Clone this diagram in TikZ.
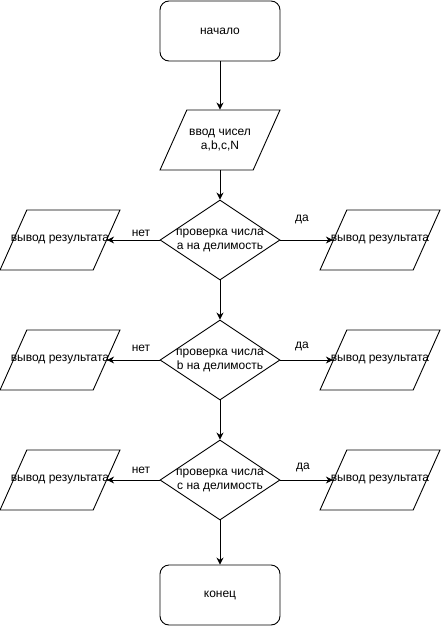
\documentclass[tikz,border=0pt]{standalone}
\usepackage{fontspec}
\setmainfont{Liberation Sans}
\usetikzlibrary{shapes.geometric,arrows.meta}
\begin{document}
\begin{tikzpicture}[x=1pt,y=-1pt,
  every node/.style={font=\fontsize{12}{14}\selectfont},
  terminal/.style={draw,rounded corners=9pt,minimum width=120pt,minimum height=60pt,line width=0.9pt},
  io/.style={draw,trapezium,trapezium left angle=68,trapezium right angle=112,
    trapezium stretches=true,minimum width=120pt,minimum height=60pt,inner sep=2pt,line width=0.9pt},
  decision/.style={draw,diamond,minimum width=120pt,minimum height=80pt,inner sep=2pt,line width=0.9pt},
  txt/.style={label={[align=center,inner sep=0pt]center:{#1}}},
  flow/.style={-{Stealth[length=7pt,width=7pt]},line width=0.9pt},
  lbl/.style={inner sep=0pt}]
\useasboundingbox (0,0) rectangle (441,626);

% main column
\node[terminal] (start) at (220,31) {начало};
\node[io,txt={ввод чисел\\ a,b,c,N}] (input) at (220,140) {};
\node[decision,txt={проверка числа\\a на делимость}] (d1) at (220,240) {};
\node[decision,txt={проверка числа\\b на делимость}] (d2) at (220,360) {};
\node[decision,txt={проверка числа\\c на делимость}] (d3) at (220,480) {};
\node[terminal] (stop) at (220,595) {конец};

% output blocks
\node[io,txt={вывод результата}] (l1) at (60,240) {};
\node[io,txt={вывод результата}] (r1) at (380,240) {};
\node[io,txt={вывод результата}] (l2) at (60,360) {};
\node[io,txt={вывод результата}] (r2) at (380,360) {};
\node[io,txt={вывод результата}] (l3) at (60,480) {};
\node[io,txt={вывод результата}] (r3) at (380,480) {};

% connectors
\draw[flow] (start) -- (input);
\draw[flow] (input) -- (d1);
\draw[flow] (d1) -- (d2);
\draw[flow] (d2) -- (d3);
\draw[flow] (d3) -- (stop);
\draw[flow] (d1) -- (l1);
\draw[flow] (d1) -- (r1);
\draw[flow] (d2) -- (l2);
\draw[flow] (d2) -- (r2);
\draw[flow] (d3) -- (l3);
\draw[flow] (d3) -- (r3);

% branch labels
\node[lbl] (n1) at (141,233) {нет};
\node[lbl] (y1) at (302,219) {да};
\node[lbl] (n2) at (141,348) {нет};
\node[lbl] (y2) at (302,346) {да};
\node[lbl] (n3) at (141,470) {нет};
\node[lbl] (y3) at (303,467) {да};
\end{tikzpicture}
\end{document}
